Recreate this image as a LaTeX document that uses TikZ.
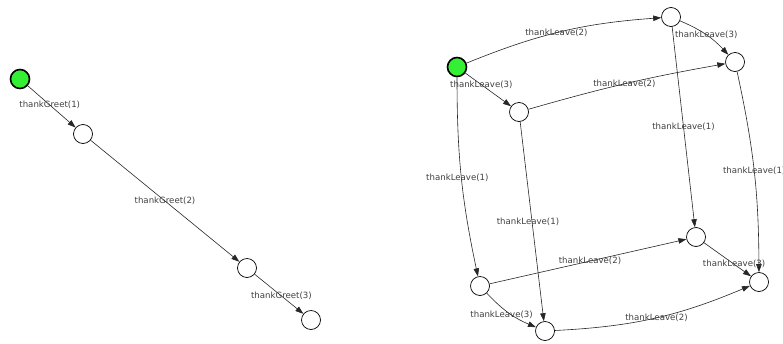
\documentclass[tikz,border=0pt]{standalone}
\usepackage{fontspec}
\setmainfont{DejaVu Sans}
\usetikzlibrary{arrows.meta}
\definecolor{stgreen}{RGB}{52,240,52}
\begin{document}
\begin{tikzpicture}[x=1pt,y=-1pt,
  st/.style={circle,draw=black,line width=0.7pt,minimum size=19pt,inner sep=0pt,fill=white},
  init/.style={st,fill=stgreen,line width=1.6pt},
  tr/.style={draw=black!85,line width=0.6pt,-{Triangle[length=8pt,width=5.5pt]}},
  lb/.style={font=\fontsize{8.6}{9}\selectfont,text=black!75,inner sep=0pt}]
\useasboundingbox (0,0) rectangle (783,343);
% left graph
\node[init] (g0) at (20,79) {};
\node[st] (g1) at (83,134) {};
\node[st] (g2) at (247,268) {};
\node[st] (g3) at (311,320) {};
\draw[tr] (g0) -- node[lb,pos=0.46]{thankGreet(1)} (g1);
\draw[tr] (g1) -- node[lb,pos=0.5]{thankGreet(2)} (g2);
\draw[tr] (g2) -- node[lb,pos=0.55]{thankGreet(3)} (g3);
% right graph
\node[init] (r0) at (457,67) {};
\node[st] (a) at (671,17) {};
\node[st] (b) at (735,62) {};
\node[st] (c) at (519,112) {};
\node[st] (d) at (696,237) {};
\node[st] (e) at (759,282) {};
\node[st] (f) at (480,286) {};
\node[st] (g) at (545,331) {};
\draw[tr] (r0) to[bend left=9] node[lb,pos=0.47]{thankLeave(2)} (a);
\draw[tr] (a) to[bend left=12] node[lb,pos=0.5]{thankLeave(3)} (b);
\draw[tr] (r0) -- node[lb,pos=0.35]{thankLeave(3)} (c);
\draw[tr] (c) to[bend left=3] node[lb,pos=0.49]{thankLeave(2)} (b);
\draw[tr] (a) -- node[lb,pos=0.5]{thankLeave(1)} (d);
\draw[tr] (b) to[bend left=6] node[lb,pos=0.5]{thankLeave(1)} (e);
\draw[tr] (r0) to[bend right=6] node[lb,pos=0.5,xshift=-4]{thankLeave(1)} (f);
\draw[tr] (c) -- node[lb,pos=0.5,xshift=-4]{thankLeave(1)} (g);
\draw[tr] (f) -- node[lb,pos=0.51]{thankLeave(2)} (d);
\draw[tr] (d) -- node[lb,pos=0.64]{thankLeave(3)} (e);
\draw[tr] (f) to[bend right=12] node[lb,pos=0.55,xshift=-10]{thankLeave(3)} (g);
\draw[tr] (g) to[bend right=10] node[lb,pos=0.51]{thankLeave(2)} (e);
\end{tikzpicture}
\end{document}
